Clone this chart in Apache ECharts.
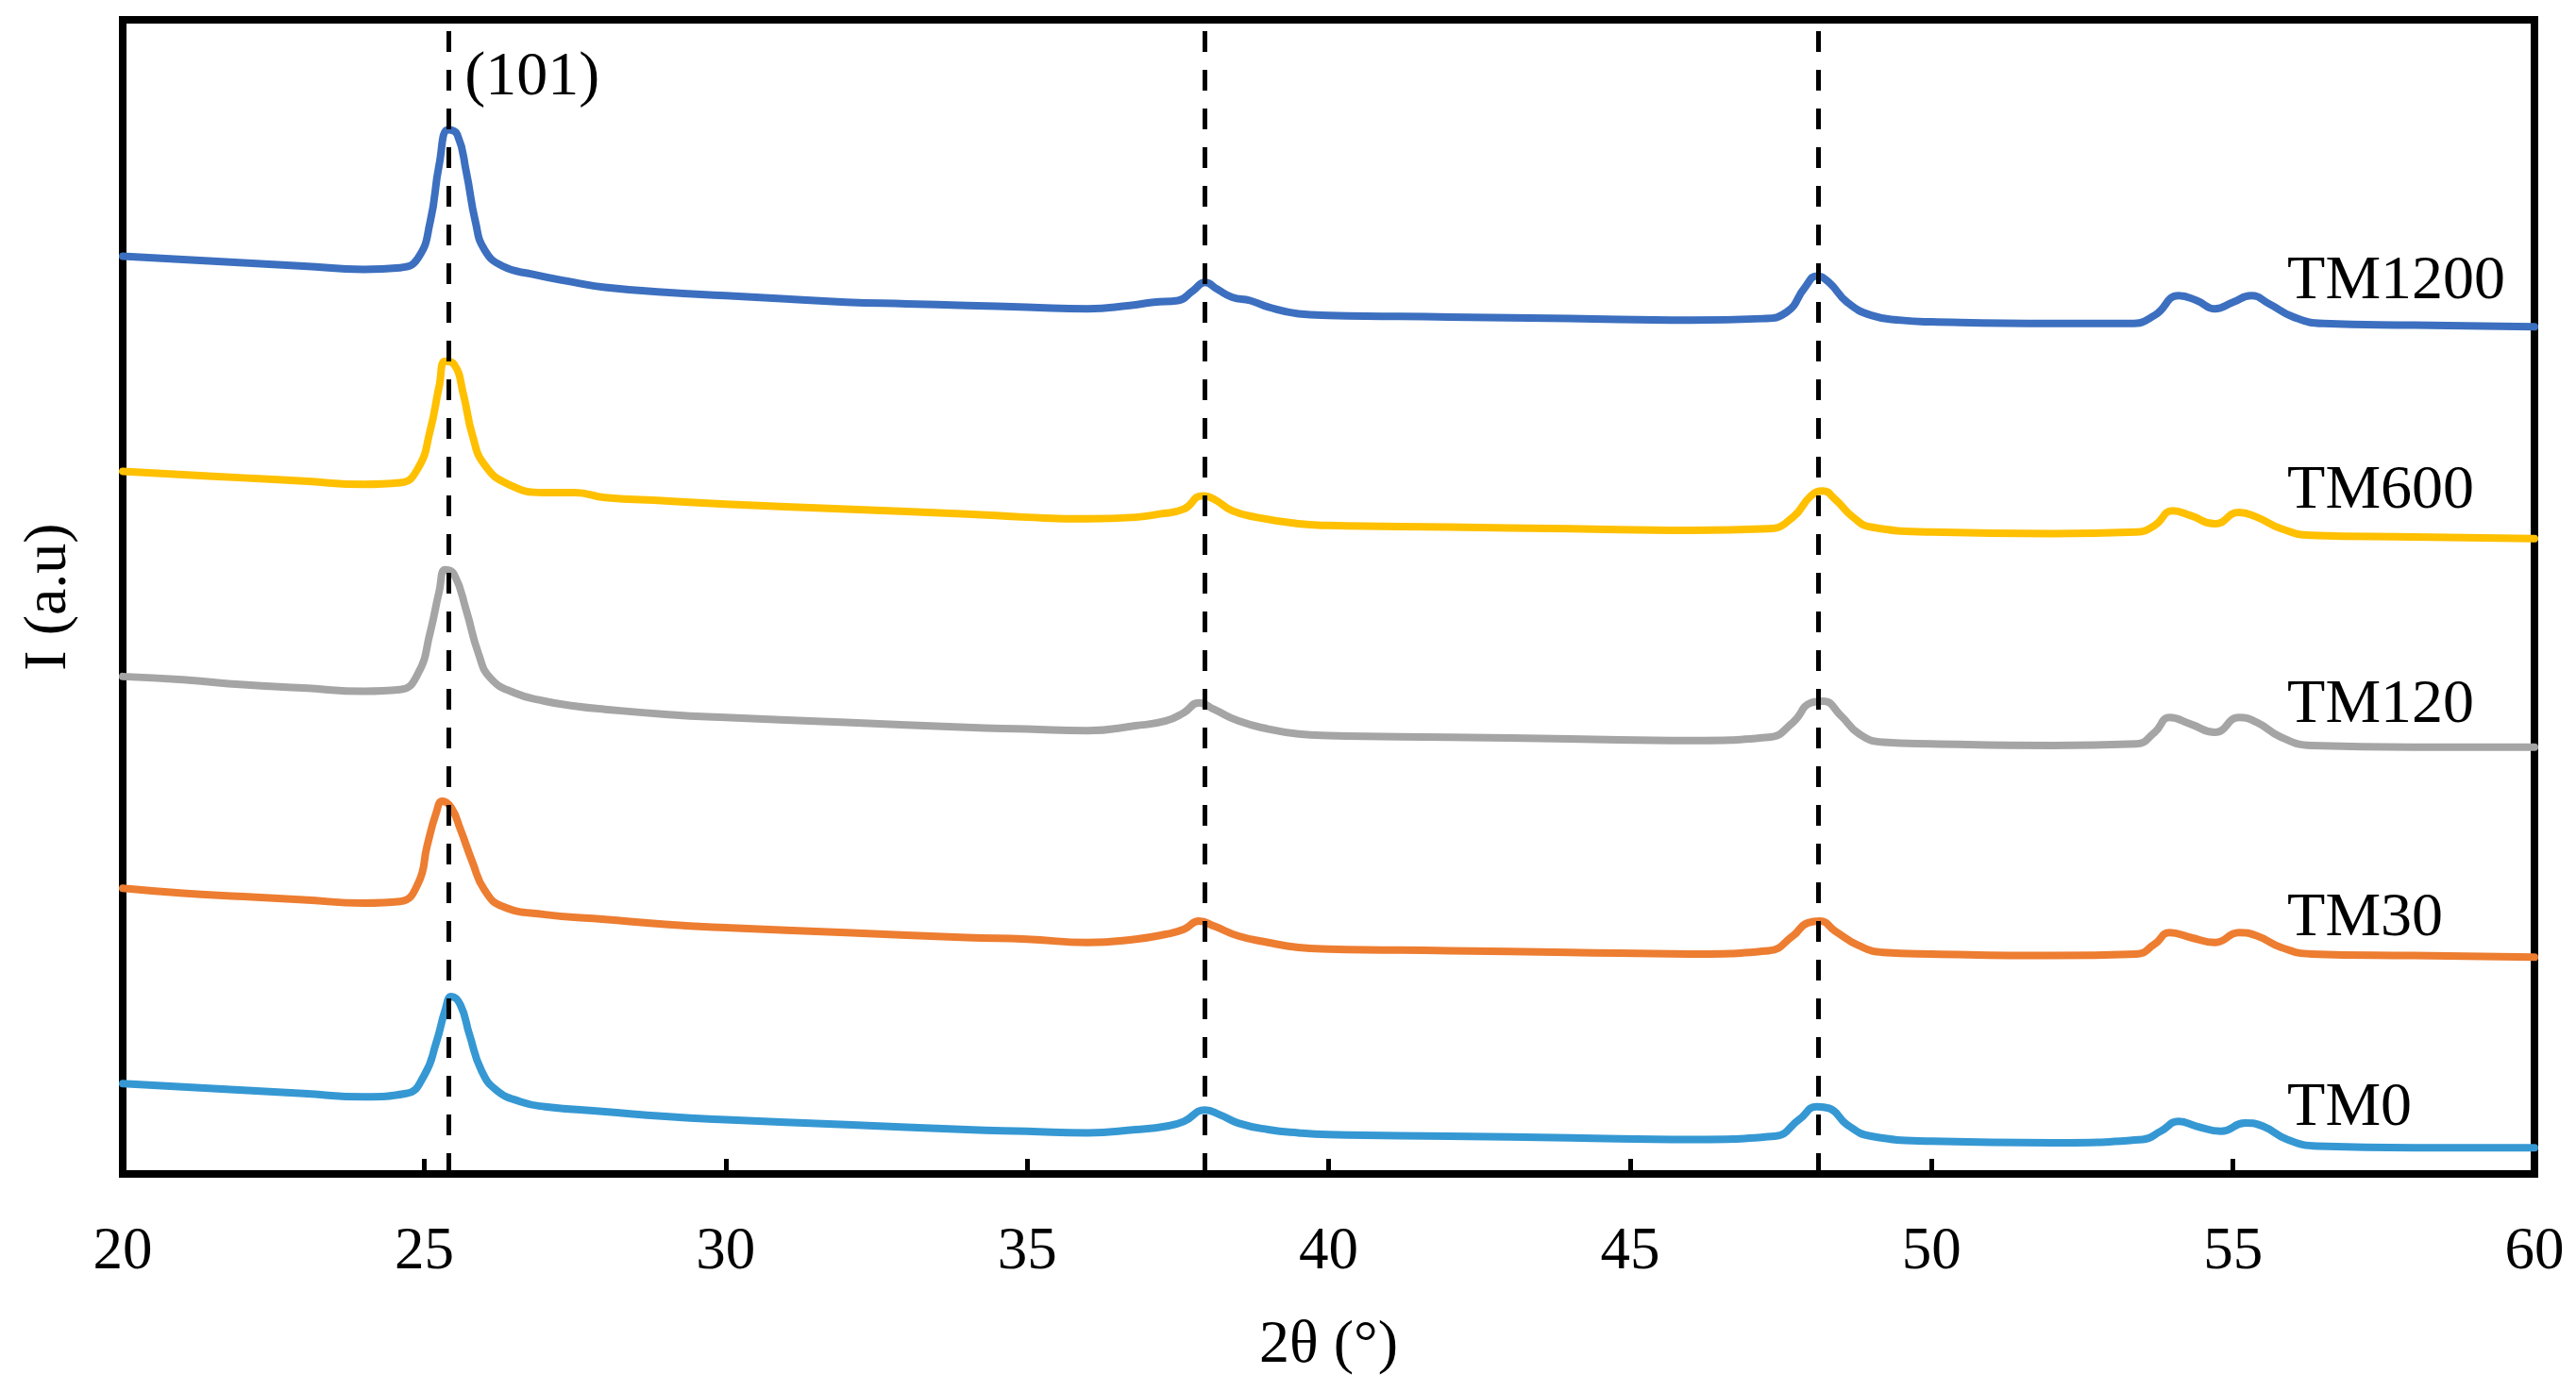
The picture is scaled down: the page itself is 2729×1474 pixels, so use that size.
<!DOCTYPE html>
<html>
<head>
<meta charset="utf-8">
<script src="https://cdn.jsdelivr.net/npm/echarts@6/dist/echarts.min.js"></script>
<style>
html,body{margin:0;padding:0;background:#fff;}
#chart{width:2729px;height:1474px;}
</style>
</head>
<body>
<div id="chart"></div>
<script>
// ---- data (2θ in degrees, intensity in arbitrary units) ----
const seriesNames = ['TM1200', 'TM600', 'TM120', 'TM30', 'TM0'];
const seriesColors = ['#3C6FBF', '#FFC000', '#A5A5A5', '#ED7D31', '#3598D3'];

const tm1200 = [[20,559],[21,557],[22,555],[23,553],[24,551],[24.6,552],[24.9,558],[25.1,580],[25.25,615],[25.4,636],[25.55,633],[25.7,610],[25.85,580],[26.0,563],[26.3,553],[26.8,548],[27.5,543],[28,540],[29,537],[30,535],[31,533],[32,531],[33,530],[34,529],[35,528],[36,527],[36.7,529],[37.1,531],[37.5,532],[37.75,538],[37.95,543],[38.15,539],[38.4,534],[38.7,532],[39.0,528],[39.5,524],[40,523],[42,522],[44,521],[46,520],[47.2,521],[47.6,525],[47.9,540],[48.1,547],[48.3,543],[48.6,531],[49.0,523],[49.5,520],[50,519],[52,518],[53.3,518],[53.7,523],[54.1,535],[54.4,532],[54.7,527],[55.0,531],[55.3,535],[55.6,530],[56.0,522],[56.5,518],[58,517],[60,516]];

const tm600 = [[20,428],[21,426],[22,424],[23,422],[24,420],[24.6,421],[24.9,430],[25.1,453],[25.25,480],[25.35,495],[25.5,493],[25.65,475],[25.8,450],[26.0,432],[26.4,420],[27,415],[27.5,415],[28,412],[29,410],[30,408],[32,405],[34,402],[35,400],[36,399],[36.8,400],[37.2,402],[37.6,405],[37.9,413],[38.1,411],[38.4,404],[38.8,400],[39.5,396],[40,395],[42,394],[44,393],[46,392],[47.3,393],[47.7,400],[48.0,413],[48.2,416],[48.4,411],[48.7,400],[49.0,394],[50,391],[52,390],[53.4,391],[53.7,395],[54.0,404],[54.3,401],[54.7,396],[55.1,403],[55.4,400],[55.8,393],[56.3,389],[58,388],[60,387]];

const tm120 = [[20,303],[21,301],[22,298],[23,296],[24,294],[24.6,295],[24.9,305],[25.1,330],[25.25,355],[25.35,368],[25.5,365],[25.7,343],[25.9,317],[26.1,302],[26.5,293],[27,288],[27.5,285],[28,283],[29,280],[30,278],[32,275],[34,272],[35,271],[36,270],[36.8,273],[37.3,276],[37.6,281],[37.85,287],[38.1,283],[38.5,276],[39,271],[39.5,268],[40,267],[42,266],[44,265],[46,264],[47.3,266],[47.7,275],[48.0,287],[48.2,288],[48.5,279],[48.8,268],[49.2,263],[50,262],[52,261],[53.4,262],[53.7,269],[53.95,278],[54.3,274],[54.7,269],[55.1,278],[55.4,275],[55.8,266],[56.3,261],[58,260],[60,260]];

const tm30 = [[20,174],[21,171],[22,169],[23,167],[24,165],[24.6,166],[24.9,177],[25.05,200],[25.2,220],[25.3,227],[25.45,223],[25.6,210],[25.8,190],[26.0,173],[26.3,163],[27,158],[28,155],[29,152],[30,150],[32,147],[34,144],[35,143],[36,141],[36.8,143],[37.3,146],[37.6,149],[37.85,154],[38.1,151],[38.5,145],[39,141],[39.5,138],[40,137],[42,136],[44,135],[46,134],[47.3,136],[47.7,145],[47.95,153],[48.15,154],[48.4,148],[48.8,139],[49.2,135],[50,134],[52,133],[53.4,134],[53.7,140],[53.95,147],[54.3,144],[54.7,141],[55.1,147],[55.4,145],[55.8,138],[56.3,134],[58,133],[60,132]];

const tm0 = [[20,55],[21,53],[22,51],[23,49],[24,47],[24.7,49],[25.0,60],[25.2,80],[25.35,100],[25.45,108],[25.6,103],[25.75,85],[25.95,63],[26.2,51],[26.6,44],[27,41],[28,38],[29,35],[30,33],[32,30],[34,27],[35,26],[36,25],[36.8,27],[37.3,29],[37.6,32],[37.95,39],[38.2,36],[38.5,31],[39,27],[39.5,25],[40,24],[42,23],[44,22],[46,21],[47.4,23],[47.8,33],[48.1,41],[48.3,40],[48.6,30],[49,23],[50,20],[52,19],[53.5,21],[53.8,26],[54.1,32],[54.4,29],[54.8,26],[55.2,31],[55.5,29],[55.9,21],[56.4,17],[58,16],[60,16]];

const seriesData = [tm1200, tm600, tm120, tm30, tm0];

// reference peak positions (dashed lines)
const refLines = [25.4, 37.95, 48.12];
// series label anchors [2θ, intensity]
const labelAnchors = [[55.9, 543], [55.9, 415], [55.9, 285], [55.9, 155], [55.9, 39]];
const peakLabel = '(101)';
const peakLabelAnchor = [25.67, 667];
const xTicks = [20, 25, 30, 35, 40, 45, 50, 55, 60];

const FONT = '"Liberation Serif", "Times New Roman", serif';

const chart = echarts.init(document.getElementById('chart'), null, {renderer: 'canvas'});

const series = seriesNames.map((name, i) => ({
  name: name,
  type: 'line',
  data: seriesData[i],
  showSymbol: false,
  smooth: 0.5,
  lineStyle: {color: seriesColors[i], width: 8, cap: 'round', join: 'round'},
  itemStyle: {color: seriesColors[i]},
  z: 2
}));

series.push({
  name: 'ref',
  type: 'line',
  data: [],
  z: 5,
  markLine: {
    silent: true,
    symbol: 'none',
    label: {show: false},
    lineStyle: {color: '#000', width: 5, type: [22, 19]},
    data: refLines.map(v => ({xAxis: v}))
  }
});

chart.setOption({
  animation: false,
  backgroundColor: '#fff',
  grid: {
    left: 130, right: 44, top: 21, bottom: 230,
    show: true, borderColor: '#000', borderWidth: 8, backgroundColor: 'transparent'
  },
  xAxis: {
    type: 'value',
    min: 20, max: 60, interval: 5,
    name: '2θ (°)',
    nameLocation: 'middle',
    nameGap: 150,
    nameTextStyle: {fontFamily: FONT, fontSize: 64, color: '#000'},
    axisLine: {show: true, lineStyle: {color: '#000', width: 8}},
    axisTick: {show: true, inside: true, length: 16, lineStyle: {color: '#000', width: 5}},
    axisLabel: {show: true, fontFamily: FONT, fontSize: 63, color: '#000', margin: 52,
      showMinLabel: true, showMaxLabel: true,
      formatter: v => xTicks.includes(v) ? String(v) : ''},
    splitLine: {show: false}
  },
  yAxis: {
    type: 'value',
    min: 0, max: 703,
    name: 'I (a.u)',
    nameLocation: 'middle',
    nameGap: 46,
    nameRotate: 90,
    nameTextStyle: {fontFamily: FONT, fontSize: 64, color: '#000'},
    axisLine: {show: true, lineStyle: {color: '#000', width: 8}},
    axisTick: {show: false},
    axisLabel: {show: false},
    splitLine: {show: false}
  },
  series: series
});

function placeLabels() {
  const g = [];
  seriesNames.forEach((name, i) => {
    const p = chart.convertToPixel({gridIndex: 0}, labelAnchors[i]);
    g.push({
      type: 'text', left: p[0], top: p[1] - 34, z: 10,
      style: {text: name, fontFamily: FONT, fontSize: 66, fill: '#000'}
    });
  });
  const pp = chart.convertToPixel({gridIndex: 0}, peakLabelAnchor);
  g.push({
    type: 'text', left: pp[0], top: pp[1] - 34, z: 10,
    style: {text: peakLabel, fontFamily: FONT, fontSize: 66, fill: '#000'}
  });
  chart.setOption({graphic: g});
}
placeLabels();
</script>
</body>
</html>
